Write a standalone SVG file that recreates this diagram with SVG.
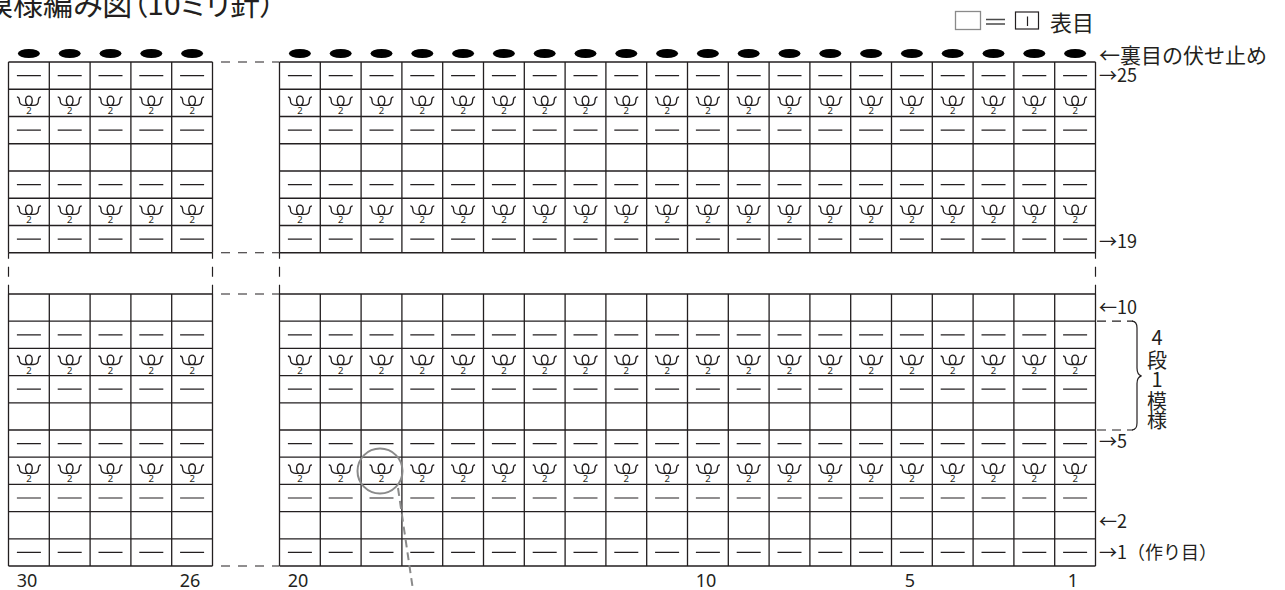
<svg xmlns="http://www.w3.org/2000/svg" xmlns:xlink="http://www.w3.org/1999/xlink" width="1285" height="590" viewBox="0 0 1285 590">
<style>
.grid{fill:none;stroke:#231f20;stroke-width:1.3}
.sym{fill:none;stroke:#231f20;stroke-width:1.2}
.lp{fill:none;stroke:#231f20;stroke-width:1.3}
.dsh{fill:none;stroke:#231f20;stroke-width:1.2;stroke-dasharray:9 8}
.gapv{fill:none;stroke:#231f20;stroke-width:1.2;stroke-dasharray:6 8 10 8 10 8}
.jp{font-family:"Noto Sans CJK JP","Noto Sans",sans-serif;fill:#231f20}
.lab{font-size:18px}
.num{font-family:"Noto Sans","Liberation Sans",sans-serif;font-size:18px;fill:#231f20;text-anchor:middle}
.two{font-family:"Noto Sans","Liberation Sans",sans-serif;font-size:9.5px;fill:#231f20;text-anchor:middle}
.hl{fill:none;stroke:#8a8a8a;stroke-width:2}
</style>
<defs>
<path id="loop" class="lp" d="M-12,-6 C-10,-5.8 -9.5,-4.5 -9.5,-2.5 C-9.5,0.8 -7.5,2.5 -4.5,2.5 H4.5 C7.5,2.5 9.5,0.8 9.5,-2.5 C9.5,-4.5 10,-5.8 12,-6 M-1.2,2.5 C-4.2,0.5 -4.2,-6.8 0,-6.8 C4.2,-6.8 4.2,0.5 1.2,2.5"/>
<path id="dashrow" class="sym" d="M16.9 0H40.9M57.7 0H81.7M98.5 0H122.5M139.3 0H163.3M180.1 0H204.1M287.9 0H311.9M328.7 0H352.7M369.5 0H393.5M410.3 0H434.3M451.1 0H475.1M491.9 0H515.9M532.7 0H556.7M573.5 0H597.5M614.3 0H638.3M655.1 0H679.1M695.9 0H719.9M736.7 0H760.7M777.5 0H801.5M818.3 0H842.3M859.1 0H883.1M899.9 0H923.9M940.7 0H964.7M981.5 0H1005.5M1022.3 0H1046.3M1063.1 0H1087.1"/>
<g id="looprow">
<use xlink:href="#loop" x="28.9"/><use xlink:href="#loop" x="69.7"/><use xlink:href="#loop" x="110.5"/><use xlink:href="#loop" x="151.3"/><use xlink:href="#loop" x="192.1"/>
<use xlink:href="#loop" x="299.9"/><use xlink:href="#loop" x="340.7"/><use xlink:href="#loop" x="381.5"/><use xlink:href="#loop" x="422.3"/><use xlink:href="#loop" x="463.1"/><use xlink:href="#loop" x="503.9"/><use xlink:href="#loop" x="544.7"/><use xlink:href="#loop" x="585.5"/><use xlink:href="#loop" x="626.3"/><use xlink:href="#loop" x="667.1"/><use xlink:href="#loop" x="707.9"/><use xlink:href="#loop" x="748.7"/><use xlink:href="#loop" x="789.5"/><use xlink:href="#loop" x="830.3"/><use xlink:href="#loop" x="871.1"/><use xlink:href="#loop" x="911.9"/><use xlink:href="#loop" x="952.7"/><use xlink:href="#loop" x="993.5"/><use xlink:href="#loop" x="1034.3"/><use xlink:href="#loop" x="1075.1"/>
<text class="two" y="11.5" x="28.9 69.7 110.5 151.3 192.1 299.9 340.7 381.5 422.3 463.1 503.9 544.7 585.5 626.3 667.1 707.9 748.7 789.5 830.3 871.1 911.9 952.7 993.5 1034.3 1075.1">2222222222222222222222222</text>
</g>
</defs>

<g id="title">
<text class="jp" x="-17" y="14.5" font-size="30" style="font-feature-settings:'palt'">模様編み図（10ミリ針）</text>
</g>

<g id="legend">
<rect x="955.5" y="11.5" width="25" height="18" fill="none" stroke="#8a8a8a" stroke-width="1.3"/>
<path d="M986 19.5H1005M986 24H1005" stroke="#4a4a4a" stroke-width="1.6"/>
<rect x="1015.5" y="12" width="23" height="17" fill="none" stroke="#231f20" stroke-width="1.2"/>
<path d="M1027.5 16.5V26" stroke="#231f20" stroke-width="1.2"/>
<text class="jp" x="1050" y="31" font-size="22">表目</text>
</g>

<g id="bind-off">
<ellipse cx="28.9" cy="53.5" rx="11" ry="4.5"/><ellipse cx="69.7" cy="53.5" rx="11" ry="4.5"/><ellipse cx="110.5" cy="53.5" rx="11" ry="4.5"/><ellipse cx="151.3" cy="53.5" rx="11" ry="4.5"/><ellipse cx="192.1" cy="53.5" rx="11" ry="4.5"/>
<ellipse cx="299.9" cy="53.5" rx="11" ry="4.5"/><ellipse cx="340.7" cy="53.5" rx="11" ry="4.5"/><ellipse cx="381.5" cy="53.5" rx="11" ry="4.5"/><ellipse cx="422.3" cy="53.5" rx="11" ry="4.5"/><ellipse cx="463.1" cy="53.5" rx="11" ry="4.5"/><ellipse cx="503.9" cy="53.5" rx="11" ry="4.5"/><ellipse cx="544.7" cy="53.5" rx="11" ry="4.5"/><ellipse cx="585.5" cy="53.5" rx="11" ry="4.5"/><ellipse cx="626.3" cy="53.5" rx="11" ry="4.5"/><ellipse cx="667.1" cy="53.5" rx="11" ry="4.5"/><ellipse cx="707.9" cy="53.5" rx="11" ry="4.5"/><ellipse cx="748.7" cy="53.5" rx="11" ry="4.5"/><ellipse cx="789.5" cy="53.5" rx="11" ry="4.5"/><ellipse cx="830.3" cy="53.5" rx="11" ry="4.5"/><ellipse cx="871.1" cy="53.5" rx="11" ry="4.5"/><ellipse cx="911.9" cy="53.5" rx="11" ry="4.5"/><ellipse cx="952.7" cy="53.5" rx="11" ry="4.5"/><ellipse cx="993.5" cy="53.5" rx="11" ry="4.5"/><ellipse cx="1034.3" cy="53.5" rx="11" ry="4.5"/><ellipse cx="1075.1" cy="53.5" rx="11" ry="4.5"/>
</g>

<g id="grid-top">
<path class="grid" d="M8.5 62H212.5M8.5 89.25H212.5M8.5 116.5H212.5M8.5 143.75H212.5M8.5 171H212.5M8.5 198.25H212.5M8.5 225.5H212.5M8.5 252.75H212.5M8.5 62V252.75M49.3 62V252.75M90.1 62V252.75M130.9 62V252.75M171.7 62V252.75M212.5 62V252.75"/>
<path class="grid" d="M279.5 62H1095.5M279.5 89.25H1095.5M279.5 116.5H1095.5M279.5 143.75H1095.5M279.5 171H1095.5M279.5 198.25H1095.5M279.5 225.5H1095.5M279.5 252.75H1095.5M279.5 62V252.75M320.3 62V252.75M361.1 62V252.75M401.9 62V252.75M442.7 62V252.75M483.5 62V252.75M524.3 62V252.75M565.1 62V252.75M605.9 62V252.75M646.7 62V252.75M687.5 62V252.75M728.3 62V252.75M769.1 62V252.75M809.9 62V252.75M850.7 62V252.75M891.5 62V252.75M932.3 62V252.75M973.1 62V252.75M1013.9 62V252.75M1054.7 62V252.75M1095.5 62V252.75"/>
</g>

<g id="grid-bottom">
<path class="grid" d="M8.5 294H212.5M8.5 321.2H212.5M8.5 348.4H212.5M8.5 375.6H212.5M8.5 402.8H212.5M8.5 430H212.5M8.5 457.2H212.5M8.5 484.4H212.5M8.5 511.6H212.5M8.5 538.8H212.5M8.5 566H212.5M8.5 294V566M49.3 294V566M90.1 294V566M130.9 294V566M171.7 294V566M212.5 294V566"/>
<path class="grid" d="M279.5 294H1095.5M279.5 321.2H1095.5M279.5 348.4H1095.5M279.5 375.6H1095.5M279.5 402.8H1095.5M279.5 430H1095.5M279.5 457.2H1095.5M279.5 484.4H1095.5M279.5 511.6H1095.5M279.5 538.8H1095.5M279.5 566H1095.5M279.5 294V566M320.3 294V566M361.1 294V566M401.9 294V566M442.7 294V566M483.5 294V566M524.3 294V566M565.1 294V566M605.9 294V566M646.7 294V566M687.5 294V566M728.3 294V566M769.1 294V566M809.9 294V566M850.7 294V566M891.5 294V566M932.3 294V566M973.1 294V566M1013.9 294V566M1054.7 294V566M1095.5 294V566"/>
</g>

<g id="omitted">
<path class="dsh" d="M221 62H279M221 252.75H279M221 294H279M221 566H279"/>
<path class="gapv" d="M8.5 252.75V294M212.5 252.75V294M279.5 252.75V294M1095.5 252.75V294"/>
</g>

<g id="symbols">
<use xlink:href="#dashrow" y="75.6"/>
<use xlink:href="#looprow" y="102.9"/>
<use xlink:href="#dashrow" y="130.1"/>
<use xlink:href="#dashrow" y="184.6"/>
<use xlink:href="#looprow" y="211.9"/>
<use xlink:href="#dashrow" y="239.1"/>
<use xlink:href="#dashrow" y="334.8"/>
<use xlink:href="#looprow" y="362"/>
<use xlink:href="#dashrow" y="389.2"/>
<use xlink:href="#dashrow" y="443.6"/>
<use xlink:href="#looprow" y="470.8"/>
<use xlink:href="#dashrow" y="498"/>
<use xlink:href="#dashrow" y="552.4"/>
</g>

<g id="row-labels">
<text class="jp" x="1099" y="63" font-size="21">←裏目の伏せ止め</text>
<text class="jp lab" x="1099" y="82">→25</text>
<text class="jp lab" x="1099" y="247.5">→19</text>
<text class="jp lab" x="1099" y="313.5">←10</text>
<text class="jp lab" x="1099" y="448">→5</text>
<text class="jp lab" x="1099" y="527.5">←2</text>
<text class="jp lab" x="1099" y="558.5">→1（作り目）</text>
</g>

<g id="repeat-bracket">
<path class="sym" d="M1097 321.2H1133M1097 430H1133" stroke-dasharray="9 6"/>
<path class="sym" d="M1132 321.2C1136 321.5 1137 324 1137 328V368C1137 372 1138 375 1141.5 375.8C1138 376.8 1137 379.5 1137 383.5V423C1137 427 1136 429.7 1132 430"/>
<g class="jp" font-size="20" text-anchor="middle">
<text x="1157" y="345">4</text>
<text x="1157" y="368">段</text>
<text x="1157" y="387">1</text>
<text x="1157" y="409">模</text>
<text x="1157" y="428">様</text>
</g>
</g>

<g id="stitch-numbers">
<text class="num" x="27" y="587">30</text>
<text class="num" x="190" y="587">26</text>
<text class="num" x="298" y="587">20</text>
<text class="num" x="706" y="587">10</text>
<text class="num" x="910" y="587">5</text>
<text class="num" x="1073" y="587">1</text>
</g>

<g id="highlight">
<circle class="hl" cx="380" cy="471" r="22.5"/>
<path class="hl" d="M398 488L413 590" stroke-dasharray="8 5"/>
</g>
</svg>
